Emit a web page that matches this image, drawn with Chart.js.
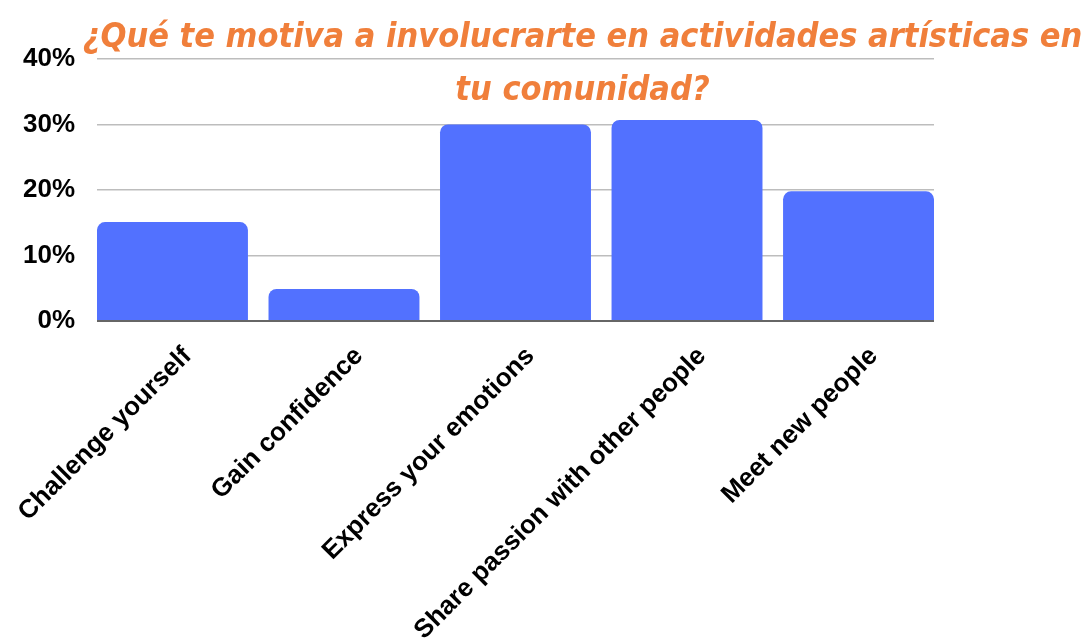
<!DOCTYPE html>
<html lang="es">
<head>
<meta charset="UTF-8">
<title>Motivación artística</title>
<script src="https://cdn.jsdelivr.net/npm/chart.js@4.4.1/dist/chart.umd.min.js"></script>
<style>
    html, body {
        margin: 0;
        padding: 0;
        background: #ffffff;
        overflow: hidden;
    }
    .wrap {
        position: relative;
        width: 1089px;
        height: 643px;
    }
    #motivChart {
        position: absolute;
        left: 0;
        top: 0;
    }
    .titulo {
        position: absolute;
        left: 38px;
        top: 9px;
        width: 1089px;
        text-align: center;
        white-space: nowrap;
        font-family: "DejaVu Sans Condensed", "Liberation Sans Narrow", "DejaVu Sans", sans-serif;
        font-weight: bold;
        font-style: italic;
        font-size: 34px;
        line-height: 53px;
        color: #f07f3b;
        pointer-events: none;
    }
</style>
</head>
<body>
<div class="wrap">
    <canvas id="motivChart" width="1089" height="643"></canvas>
    <div class="titulo">¿Qué te motiva a involucrarte en actividades artísticas en<br>tu comunidad?</div>
</div>
<script>
// Respuestas de la encuesta (porcentaje)
const categorias = [
    'Challenge yourself',
    'Gain confidence',
    'Express your emotions',
    'Share passion with other people',
    'Meet new people'
];
const porcentajes = [15.1, 4.9, 30.0, 30.7, 19.8];
const ticksY = [0, 10, 20, 30, 40];

const ANCHO_BARRA = 0.88; // fracción de cada categoría ocupada por la barra

const ctx = document.getElementById('motivChart').getContext('2d');

const datos = categorias.map(function(c, i) {
    return { x: i, y: porcentajes[i] };
});

const fuenteEjes = '"Liberation Sans", Arial, sans-serif';

const motivChart = new Chart(ctx, {
    type: 'bar',
    data: {
        datasets: [{
            label: 'Respuestas',
            data: datos,
            backgroundColor: '#5271ff',
            borderRadius: 8,
            borderSkipped: 'start',
            categoryPercentage: 1,
            barPercentage: ANCHO_BARRA
        }]
    },
    options: {
        responsive: false,
        animation: false,
        layout: {
            padding: { top: 59, right: 155, bottom: 0, left: 0 }
        },
        plugins: {
            legend: { display: false },
            tooltip: { enabled: false },
            title: { display: false }
        },
        scales: {
            x: {
                type: 'linear',
                offset: false,
                min: -ANCHO_BARRA / 2,
                max: categorias.length - 1 + ANCHO_BARRA / 2,
                grid: { display: false, offset: false },
                border: { display: false },
                ticks: {
                    stepSize: 1,
                    includeBounds: false,
                    autoSkip: false,
                    minRotation: 45,
                    maxRotation: 45,
                    padding: 12,
                    labelOffset: 15,
                    color: '#000000',
                    font: { family: fuenteEjes, size: 26, weight: 'bold' },
                    callback: function(value) {
                        return categorias[value];
                    }
                },
                afterFit: function(scale) {
                    // las etiquetas se recortan abajo, como en el original
                    scale.height = 322;
                    scale.paddingLeft = 0;
                    scale.paddingRight = 0;
                }
            },
            y: {
                min: ticksY[0],
                max: ticksY[ticksY.length - 1],
                afterBuildTicks: function(scale) {
                    scale.ticks = ticksY.map(function(v) { return { value: v }; });
                },
                border: { display: false },
                grid: {
                    drawTicks: false,
                    color: function(c) {
                        return c.tick && c.tick.value === 0 ? '#666666' : '#bdbdbd';
                    },
                    lineWidth: function(c) {
                        return c.tick && c.tick.value === 0 ? 2 : 1.5;
                    }
                },
                ticks: {
                    padding: 22,
                    color: '#000000',
                    font: { family: fuenteEjes, size: 26, weight: 'bold' },
                    callback: function(value) {
                        return value + '%';
                    }
                },
                afterFit: function(scale) {
                    scale.width = 97;
                }
            }
        }
    }
});
</script>
</body>
</html>
